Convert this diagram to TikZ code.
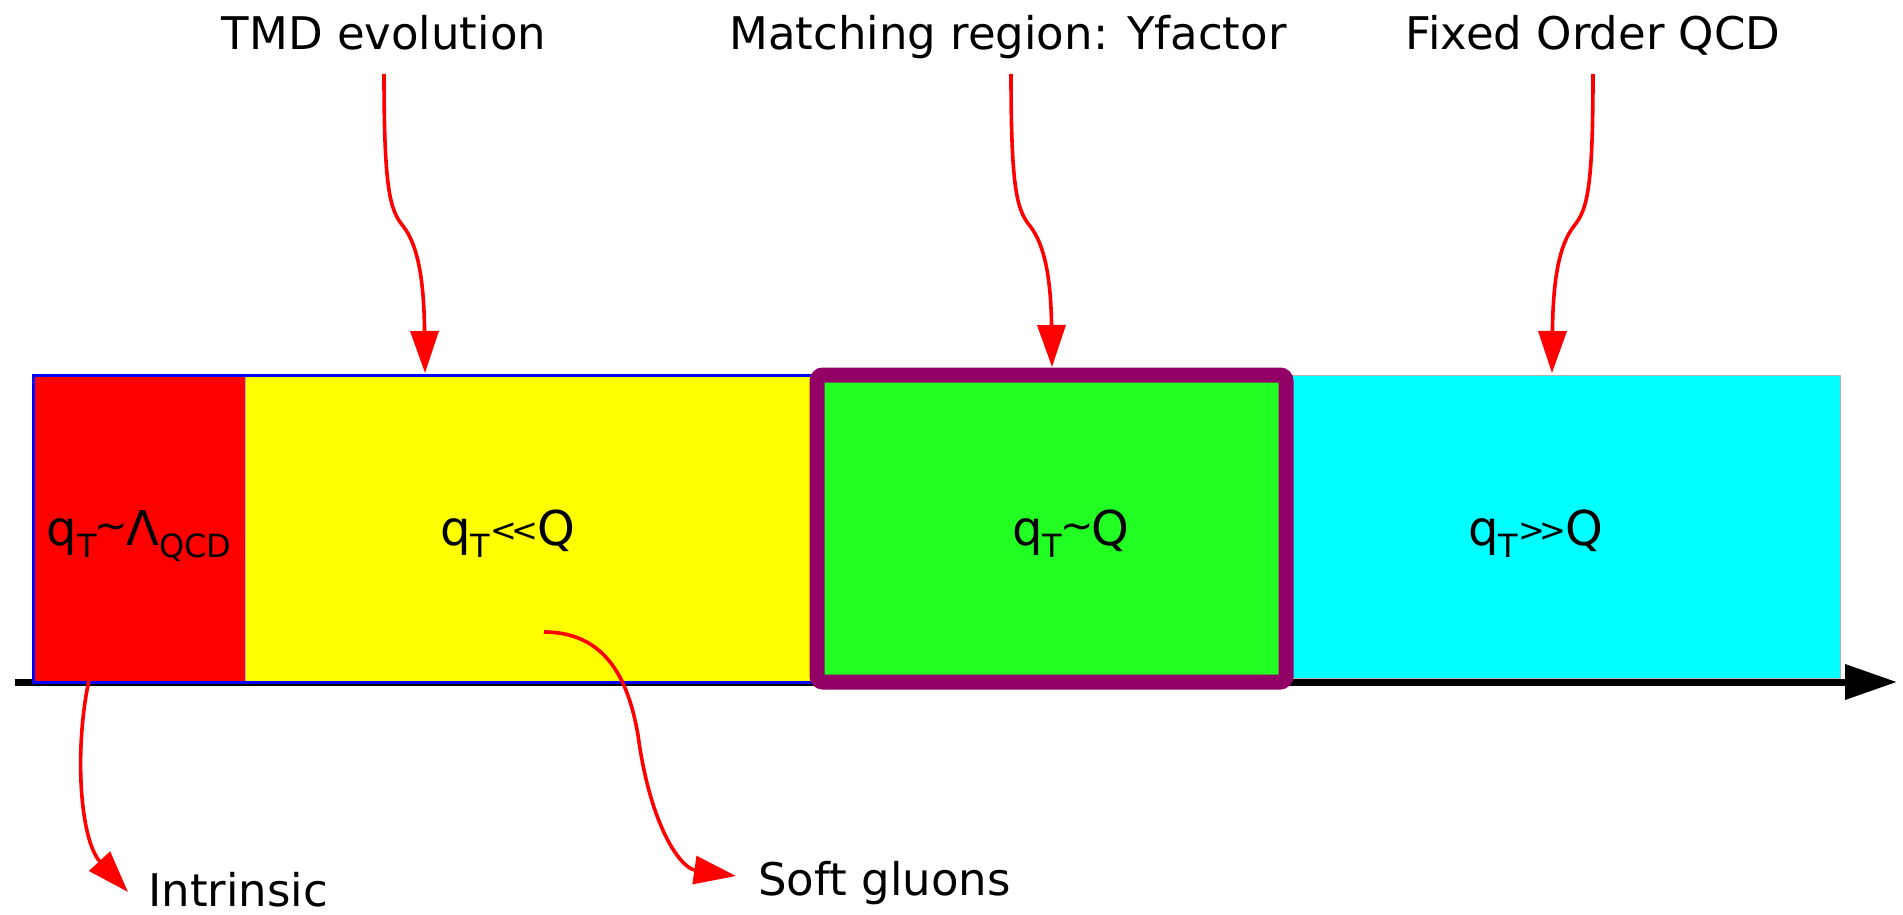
\documentclass[tikz,border=0pt]{standalone}
\usepackage{fontspec}
\setmainfont{DejaVu Sans}
\usetikzlibrary{arrows.meta}
\definecolor{rred}{RGB}{255,0,0}
\definecolor{yel}{RGB}{255,255,0}
\definecolor{grn}{RGB}{34,255,34}
\definecolor{cyn}{RGB}{0,255,255}
\definecolor{purp}{RGB}{146,0,102}
\definecolor{blu}{RGB}{0,0,255}
\newcommand{\sbs}[1]{\raisebox{-6pt}{\fontsize{16}{19}\selectfont #1}}
\newcommand{\tld}{\kern-1pt\raisebox{3pt}{\fontsize{20}{22}\selectfont\textasciitilde}\kern-1pt}
\newcommand{\chev}[1]{\raisebox{1.7pt}{\fontsize{16}{18}\selectfont #1}}
\begin{document}
\begin{tikzpicture}[x=0.5pt,y=-0.5pt,
  lab/.style={inner sep=0pt, anchor=base, font=\fontsize{22.5}{27}\selectfont},
  qlab/.style={inner sep=0pt, anchor=base, font=\fontsize{24}{28}\selectfont},
  redarr/.style={draw=rred, line width=1.8pt, -{Triangle[length=21pt,width=14pt]}},
  region/.style={draw=gray!60, line width=0.4pt}]
\useasboundingbox (0,0) rectangle (1903,915);

% axis
\coordinate (axS) at (15,682);
\coordinate (axE) at (1897,682);
\draw[line width=3.5pt, -{Triangle[length=26pt,width=17pt]}] (axS) -- (axE);

% regions
\filldraw[fill=rred, region] (33,375) rectangle (245,682);
\filldraw[fill=yel, region] (245,375) rectangle (817,682);
\draw[blu, line width=1.5pt] (33,375) rectangle (817,682);
\filldraw[fill=cyn, region] (1286,375) rectangle (1840,678);
\filldraw[fill=grn, draw=purp, line width=7.5pt, rounded corners=3pt] (817,375) rectangle (1286,682);

% region labels
\node[qlab] (r1) at (139,545) {q\sbs{T}\tld Λ\sbs{QCD}};
\node[qlab] (r2) at (508,545) {q\sbs{T}\chev{<\kern-3pt<}Q};
\node[qlab] (r3) at (1071,545) {q\sbs{T}\tld Q};
\node[qlab] (r4) at (1536,545) {q\sbs{T}\chev{>\kern-3pt>}Q};

% top labels
\node[lab] (tmd) at (384,50) {TMD evolution};
\node[lab] (mat) at (1008,50) {Matching region: Yfactor};
\node[lab] (fix) at (1593,50) {Fixed Order QCD};

% bottom labels
\node[lab, anchor=base west] (intr) at (148,906) {Intrinsic};
\node[lab, anchor=base west] (soft) at (758,895) {Soft gluons};

% arrows
\coordinate (tmdA) at (384,74);  \coordinate (tmdB) at (425,373);
\coordinate (matA) at (1011,74); \coordinate (matB) at (1052,367);
\coordinate (fixA) at (1593,74); \coordinate (fixB) at (1552,373);
\coordinate (inA) at (89,680);   \coordinate (inB) at (128,892);
\coordinate (sgA) at (544,632);  \coordinate (sgB) at (736,876);

\draw[redarr] (tmdA) .. controls (384,190) and (390,210) .. (403,226) .. controls (418,245) and (424,280) .. (tmdB);
\draw[redarr] (matA) .. controls (1011,190) and (1017,210) .. (1030,226) .. controls (1045,245) and (1051,280) .. (matB);
\draw[redarr] (fixA) .. controls (1593,190) and (1587,210) .. (1574,226) .. controls (1559,245) and (1553,280) .. (fixB);
\draw[redarr] (inA) .. controls (74,750) and (80,840) .. (inB);
\draw[redarr] (sgA) .. controls (612,632) and (630,690) .. (638,735) .. controls (650,825) and (680,868) .. (sgB);
\end{tikzpicture}
\end{document}
